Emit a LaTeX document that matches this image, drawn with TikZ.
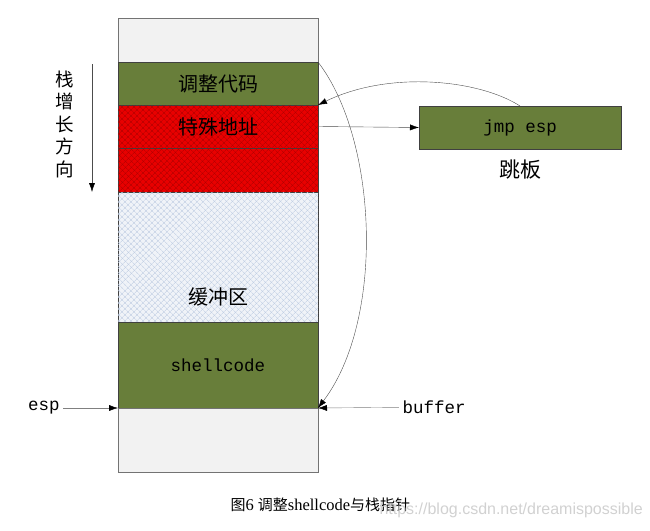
\documentclass[tikz,border=0pt]{standalone}
\usepackage{fontspec}
\setmainfont{Liberation Serif}
\newfontfamily\cjk{Noto Sans CJK SC}
\newfontfamily\mono{Liberation Mono}
\newfontfamily\wmark{Liberation Sans}
\usetikzlibrary{
    arrows.meta,
    patterns.meta,
    positioning
}
\definecolor{stackgreen}{RGB}{104,126,58}
\definecolor{stackred}{RGB}{232,0,0}
\definecolor{hatchred}{RGB}{175,0,0}
\definecolor{stackgray}{RGB}{242,242,242}
\definecolor{bufblue}{RGB}{240,243,248}
\definecolor{hatchblue}{RGB}{190,204,226}

\begin{document}
\begin{tikzpicture}[x=1pt, y=-1pt, node distance=0pt,
    block/.style={draw=black!75, minimum width=200pt, inner sep=0pt, outer sep=0pt},
    hatched/.style={postaction={pattern={Lines[angle=45, distance=4pt, line width=0.5pt]}, pattern color=#1},
                    postaction={pattern={Lines[angle=-45, distance=4pt, line width=0.5pt]}, pattern color=#1}},
    cntext/.style={font=\cjk\fontsize{20}{20}\selectfont},
    codetext/.style={font=\mono\fontsize{17.5}{17.5}\selectfont},
    ptr/.style={-{Latex[length=9pt, width=6pt, color=black]}}]
    \useasboundingbox (0,0) rectangle (650,530);
    % stack
    \node (top) [block, draw=black!55, fill=stackgray, minimum height=44pt] at (218,40) {};
    \node (adjust) [block, fill=stackgreen, minimum height=43pt, below=of top, cntext] {调整代码};
    \node (addr) [block, fill=stackred, hatched=hatchred, minimum height=43pt, below=of adjust, cntext] {特殊地址};
    \node (addrb) [block, fill=stackred, hatched=hatchred, minimum height=44pt, below=of addr] {};
    \node (buf) [block, fill=bufblue, hatched=hatchblue, minimum height=130pt, below=of addrb] {};
    \node (buflabel) [above=12pt of buf.south, cntext] {缓冲区};
    \node (shell) [block, fill=stackgreen, minimum height=86pt, below=of buf, codetext] {shellcode};
    \node (bottom) [block, draw=black!55, fill=stackgray, minimum height=64pt, below=of shell] {};
    % trampoline
    \node (jmp) [block, fill=stackgreen, minimum width=202pt, minimum height=43pt, codetext] at (520,127.5) {jmp esp};
    \node (tramp) [below=7pt of jmp, font=\cjk\fontsize{21}{21}\selectfont] {跳板};
    % growth direction
    \node (grow) [align=center, font=\cjk\fontsize{18.5}{22.5}\selectfont] at (65,124) {栈\\增\\长\\方\\向};
    \coordinate (growtop) at (92,64);
    \coordinate (growend) at (92,192);
    \draw[ptr, black!70] (growtop) -- (growend);
    % pointers
    \node (esp) [codetext] at (44,408) {esp};
    \node (buffer) [codetext] at (434,407) {buffer};
    \draw[ptr, black!50] (esp) -- (shell.south west);
    \draw[ptr, black!50] (buffer) -- (shell.south east);
    \draw[ptr, black!70] (addr.east) -- (jmp.west);
    \draw[ptr, black!70] (jmp.north) .. controls (480,80) and (390,70) .. (adjust.south east);
    \draw[ptr, black!70] (adjust.north east) .. controls (378,140) and (385,320) .. (shell.south east);
    % caption
    \node (caption) [anchor=west, font=\fontsize{16.5}{16.5}\selectfont] at (227,505) {{\cjk\fontsize{15}{15}\selectfont 图}6 {\cjk\fontsize{15}{15}\selectfont 调整}shellcode{\cjk\fontsize{15}{15}\selectfont 与栈指针}};
    \node (wm) [anchor=west, text=black!18, font=\wmark\fontsize{16}{16}\selectfont] at (376,510) {https://blog.csdn.net/dreamispossible};
\end{tikzpicture}
\end{document}
